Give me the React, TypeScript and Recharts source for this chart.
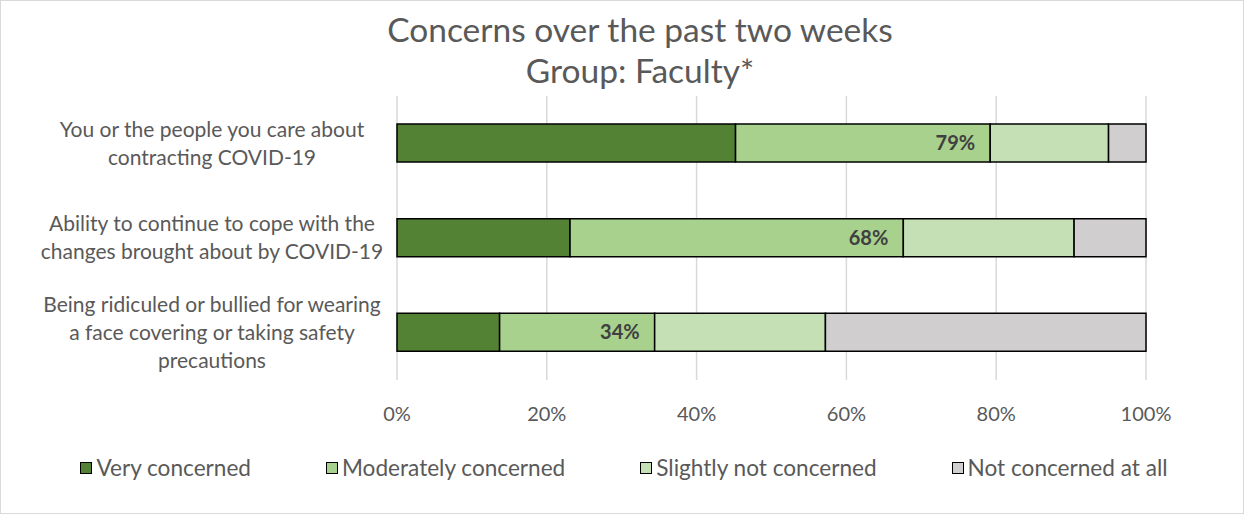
import { BarChart, Bar, XAxis, YAxis, CartesianGrid, Legend, LabelList } from 'recharts'

const categoryLines = [
  ['You or the people you care about', 'contracting COVID-19'],
  ['Ability to continue to cope with the', 'changes brought about by COVID-19'],
  ['Being ridiculed or bullied for wearing', 'a face covering or taking safety', 'precautions'],
]
const veryConcerned = [45.2, 23.1, 13.7]
const moderatelyConcerned = [34.0, 44.5, 20.7]
const slightlyNotConcerned = [15.8, 22.8, 22.8]
const notConcernedAtAll = [5.0, 9.6, 42.8]
const xTicks = [0, 20, 40, 60, 80, 100]

const series = [
  { key: 'very', name: 'Very concerned', color: '#548235' },
  { key: 'moderate', name: 'Moderately concerned', color: '#a9d18e' },
  { key: 'slight', name: 'Slightly not concerned', color: '#c5e0b4' },
  { key: 'none', name: 'Not concerned at all', color: '#d0cece' },
]

const data = categoryLines.map((lines, i) => ({
  category: lines.join(' '),
  very: veryConcerned[i],
  moderate: moderatelyConcerned[i],
  slight: slightlyNotConcerned[i],
  none: notConcernedAtAll[i],
  concerned: Math.round(veryConcerned[i] + moderatelyConcerned[i]),
}))

const FONT = 'Lato, "Open Sans", sans-serif'
const TEXT = '#595959'

// category labels are centred in the space left of the plot, like Excel does
function CategoryTick(props: any) {
  const { x, y, payload, index } = props
  const lines = categoryLines[index] ?? [payload.value]
  const lh = 28
  const start = y - ((lines.length - 1) * lh) / 2
  const cx = x - 177
  return (
    <text x={cx} textAnchor="middle" fill={TEXT} fontSize={21} fontFamily={FONT}>
      {lines.map((l, i) => (
        <tspan key={i} x={cx} y={start + i * lh} dy="0.35em">
          {l}
        </tspan>
      ))}
    </text>
  )
}

function ConcernLabel(props: any) {
  const { x, y, width, height, value } = props
  return (
    <text
      x={x + width - 15}
      y={y + height / 2}
      dy="0.35em"
      textAnchor="end"
      fill="#404040"
      fontSize={20}
      fontWeight={700}
      fontFamily={FONT}
    >
      {value}%
    </text>
  )
}

function LegendContent() {
  return (
    <div
      style={{
        display: 'flex',
        justifyContent: 'center',
        gap: 75,
        fontFamily: FONT,
        fontSize: 22.6,
        color: TEXT,
        paddingLeft: 4,
      }}
    >
      {series.map((s) => (
        <div key={s.key} style={{ display: 'flex', alignItems: 'center' }}>
          <span
            style={{
              width: 10,
              height: 10,
              background: s.color,
              border: '1.5px solid #000',
              marginRight: 4,
              display: 'inline-block',
            }}
          />
          {s.name}
        </div>
      ))}
    </div>
  )
}

export default function App() {
  return (
    <div
      style={{
        position: 'relative',
        width: 1244,
        height: 514,
        boxSizing: 'border-box',
        border: '1px solid #d9d9d9',
        background: '#fff',
        fontFamily: FONT,
      }}
    >
      <style>{`body{margin:0}`}</style>
      <div
        style={{
          position: 'absolute',
          top: 8,
          left: 18,
          width: '100%',
          textAlign: 'center',
          color: TEXT,
          fontSize: 33.5,
          lineHeight: '41px',
        }}
      >
        Concerns over the past two weeks
        <br />
        Group: Faculty*
      </div>
      <BarChart
        width={1242}
        height={512}
        data={data}
        layout="vertical"
        barSize={38}
        margin={{ top: 95, right: 97, bottom: 66, left: 0 }}
      >
        <CartesianGrid horizontal={false} stroke="#d9d9d9" strokeWidth={1.5} />
        <XAxis
          type="number"
          domain={[0, 100]}
          ticks={xTicks}
          tickFormatter={(v) => `${v}%`}
          axisLine={false}
          tickLine={false}
          tickMargin={21}
          height={40}
          tick={{ fill: TEXT, fontSize: 20, fontFamily: FONT }}
          interval={0}
        />
        <YAxis
          type="category"
          dataKey="category"
          width={396}
          axisLine={false}
          tickLine={false}
          tick={<CategoryTick />}
          interval={0}
        />
        <Legend
          verticalAlign="bottom"
          content={<LegendContent />}
          wrapperStyle={{ bottom: 32, left: 0, width: 1242 }}
        />
        {series.map((s) => (
          <Bar
            key={s.key}
            dataKey={s.key}
            name={s.name}
            stackId="a"
            fill={s.color}
            stroke="#000"
            strokeWidth={1.5}
            isAnimationActive={false}
          >
            {s.key === 'moderate' && <LabelList dataKey="concerned" content={<ConcernLabel />} />}
          </Bar>
        ))}
      </BarChart>
    </div>
  )
}
